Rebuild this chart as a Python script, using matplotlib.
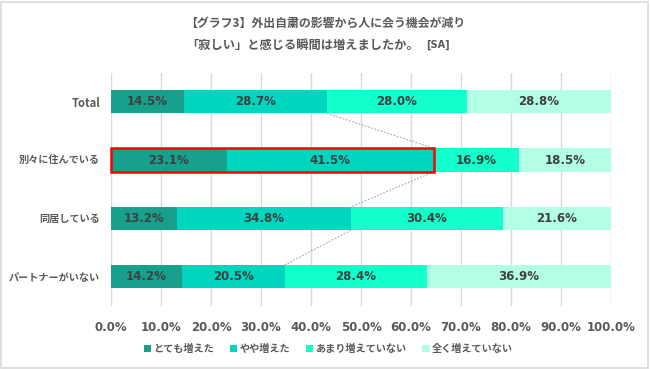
import numpy as np
import matplotlib
matplotlib.use("Agg")
import matplotlib.pyplot as plt
from matplotlib.patches import Rectangle

plt.rcParams['font.family'] = ['Noto Sans CJK JP', 'DejaVu Sans']

# ====== Data ======
categories = ['Total', '別々に住んでいる', '同居している', 'パートナーがいない']
series_names = ['とても増えた', 'やや増えた', 'あまり増えていない', '全く増えていない']
very_much = [14.5, 23.1, 13.2, 14.2]
somewhat = [28.7, 41.5, 34.8, 20.5]
not_much = [28.0, 16.9, 30.4, 28.4]
not_at_all = [28.8, 18.5, 21.6, 36.9]
x_ticks = [0, 10, 20, 30, 40, 50, 60, 70, 80, 90, 100]
highlight_row = 1  # 別々に住んでいる, first two segments boxed in red
# ==================

colors = ['#17A08B', '#00D6BF', '#12FFCC', '#B3FFE3']
label_color = '#404040'
text_color = '#595959'
bar_h = 0.4

fig = plt.figure(figsize=(6.5, 3.69), dpi=100)
ax = fig.add_axes([0.1708, 0.1707, 0.7692, 0.6328])

values = np.array([very_much, somewhat, not_much, not_at_all])
ypos = np.arange(len(categories))
left = np.zeros(len(categories))
for vals, name, col in zip(values, series_names, colors):
    bars = ax.barh(ypos, vals, left=left, height=bar_h, color=col,
                   label=name, zorder=3)
    for b, v in zip(bars, vals):
        ax.text(b.get_x() + b.get_width() / 2, b.get_y() + b.get_height() / 2,
                f'{v:.1f}%', ha='center', va='center', fontsize=8.5,
                fontweight='bold', color=label_color, family='DejaVu Sans',
                zorder=4)
    left = left + vals

# dotted series lines at the end of the second segment
ends = values[0] + values[1]
for i in range(len(categories) - 1):
    ax.plot([ends[i], ends[i + 1]], [ypos[i] + bar_h / 2, ypos[i + 1] - bar_h / 2],
            color='#A6A6A6', lw=0.8, ls=(0, (1.5, 1.5)), zorder=2)

# red highlight box
ax.add_patch(Rectangle((0, ypos[highlight_row] - bar_h / 2), ends[highlight_row], bar_h,
                       fill=False, edgecolor='#FF0000', lw=1.8, zorder=5,
                       clip_on=False))

ax.set_xlim(0, 100)
ax.set_ylim(len(categories) - 0.5, -0.5)
ax.set_xticks(x_ticks)
ax.set_xticklabels([f'{t:.1f}%' for t in x_ticks], fontsize=8.5,
                   fontweight='bold', color=text_color, family='DejaVu Sans')
ax.set_yticks(ypos)
ax.set_yticklabels(categories, fontsize=7.3, fontweight='bold', color=text_color)
ax.get_yticklabels()[0].set_fontsize(8)
ax.tick_params(axis='both', length=0)
ax.tick_params(axis='x', pad=11)
ax.tick_params(axis='y', pad=8)
ax.grid(axis='x', color='#D9D9D9', lw=1, zorder=0)
for s in ax.spines.values():
    s.set_visible(False)

# title
fig.text(0.5, 1 - 23 / 369, '【グラフ3】外出自粛の影響から人に会う機会が減り',
         ha='center', va='center', fontsize=8.6, fontweight='bold', color=text_color)
t2 = fig.text(0.466, 1 - 45 / 369, '「寂しい」と感じる瞬間は増えましたか。',
              ha='center', va='center', fontsize=8.8, fontweight='bold', color=text_color)
ax.annotate('[SA]', xy=(1, 0.5), xycoords=t2, xytext=(5, 0), textcoords='offset points',
            ha='left', va='center', fontsize=7, fontweight='bold', color=text_color,
            family='DejaVu Sans', annotation_clip=False)

fig.legend(loc='center', bbox_to_anchor=(0.505, 1 - 349 / 369), ncol=4, frameon=False,
           handlelength=0.7, handleheight=0.7, handletextpad=0.2,
           columnspacing=1.6, labelcolor=text_color,
           prop={'weight': 'bold', 'size': 7.3})

# light border round the whole chart
fig.patches.append(Rectangle((0.002, 0.004), 0.995, 0.991, transform=fig.transFigure,
                             fill=False, edgecolor='#D9D9D9', lw=1.2))

fig.savefig('out.png', dpi=100)
